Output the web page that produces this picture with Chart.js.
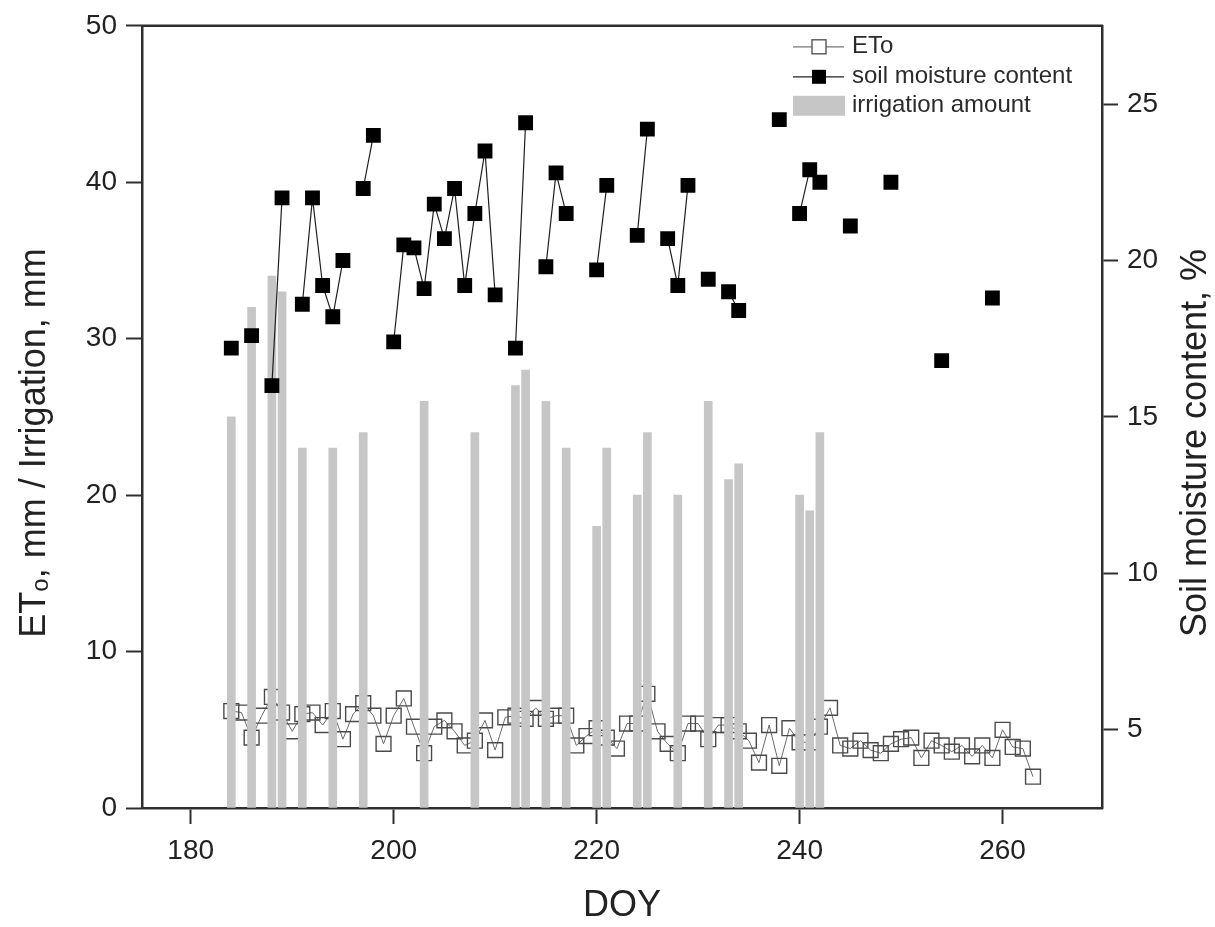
<!DOCTYPE html>
<html>
<head>
<meta charset="utf-8">
<title>ETo, soil moisture and irrigation by DOY</title>
<script src="https://cdn.jsdelivr.net/npm/chart.js@4.4.0/dist/chart.umd.min.js"></script>
<style>
  html, body { margin: 0; padding: 0; background: #ffffff; }
  #wrap { width: 1215px; height: 927px; }
</style>
</head>
<body>
<div id="wrap"><canvas id="chart" width="1215" height="927"></canvas></div>
<script>
// Day of year for the daily reference evapotranspiration record
const etoDays = [
  184, 185, 186, 187, 188, 189, 190, 191, 192, 193,
  194, 195, 196, 197, 198, 199, 200, 201, 202, 203,
  204, 205, 206, 207, 208, 209, 210, 211, 212, 213,
  214, 215, 216, 217, 218, 219, 220, 221, 222, 223,
  224, 225, 226, 227, 228, 229, 230, 231, 232, 233,
  234, 235, 236, 237, 238, 239, 240, 241, 242, 243,
  244, 245, 246, 247, 248, 249, 250, 251, 252, 253,
  254, 255, 256, 257, 258, 259, 260, 261, 262, 263
];
// ETo, mm per day
const etoValues = [
  6.2, 6.1, 4.5, 5.9, 7.1, 6.1, 4.9, 6.0, 6.1, 5.3,
  6.2, 4.4, 6.0, 6.7, 5.9, 4.1, 5.9, 7.0, 5.2, 3.5,
  5.2, 5.6, 4.9, 4.0, 4.3, 5.6, 3.7, 5.8, 5.9, 5.7,
  6.4, 5.7, 5.9, 5.9, 4.0, 4.6, 5.1, 4.5, 3.8, 5.4,
  5.4, 7.3, 4.9, 4.1, 3.5, 5.4, 5.4, 4.4, 5.3, 5.3,
  4.9, 4.3, 2.9, 5.3, 2.7, 5.1, 4.2, 4.2, 5.2, 6.4,
  4.0, 3.8, 4.3, 3.7, 3.5, 4.1, 4.4, 4.5, 3.2, 4.3,
  4.0, 3.6, 4.0, 3.3, 4.0, 3.2, 5.0, 3.9, 3.8, 2.0
];

// Soil moisture content (%), measured on these days only
const soilDays = [
  184, 186, 188, 189, 191, 192, 193, 194, 195, 197,
  198, 200, 201, 202, 203, 204, 205, 206, 207, 208,
  209, 210, 212, 213, 215, 216, 217, 220, 221, 224,
  225, 227, 228, 229, 231, 233, 234, 238, 240, 241,
  242, 245, 249, 254, 259
];
const soilValues = [
  17.2, 17.6, 16.0, 22.0, 18.6, 22.0, 19.2, 18.2, 20.0, 22.3,
  24.0, 17.4, 20.5, 20.4, 19.1, 21.8, 20.7, 22.3, 19.2, 21.5,
  23.5, 18.9, 17.2, 24.4, 19.8, 22.8, 21.5, 19.7, 22.4, 20.8,
  24.2, 20.7, 19.2, 22.4, 19.4, 19.0, 18.4, 24.5, 21.5, 22.9,
  22.5, 21.1, 22.5, 16.8, 18.8
];

// Irrigation events (mm)
const irrDays = [
  184, 186, 188, 189, 191, 194, 197, 203, 208, 212,
  213, 215, 217, 220, 221, 224, 225, 228, 231, 233,
  234, 240, 241, 242
];
const irrAmounts = [
  25, 32, 34, 33, 23, 23, 24, 26, 24, 27,
  28, 26, 23, 18, 23, 20, 24, 20, 26, 21,
  22, 20, 19, 24
];

// Axis tick labels
const doyTicks = [180, 200, 220, 240, 260];
const leftTicks = [0, 10, 20, 30, 40, 50];
const rightTicks = [5, 10, 15, 20, 25];

const FONT = "'Liberation Sans', Arial, Helvetica, sans-serif";
const INK = '#222222';
const AXIS = '#2e2e2e';

// Soil readings are joined only on consecutive days: a null point breaks the line
const soilPoints = [];
soilDays.forEach((d, i) => {
  if (i > 0 && d - soilDays[i - 1] > 1) soilPoints.push({ x: d - 0.5, y: null });
  soilPoints.push({ x: d, y: soilValues[i] });
});

const etoPoints = etoDays.map((d, i) => ({ x: d, y: etoValues[i] }));
const irrPoints = irrDays.map((d, i) => ({ x: d, y: irrAmounts[i] }));

// Frame top edge, axis titles and the inset legend
const decor = {
  id: 'decor',
  afterDraw(chart) {
    const { ctx, chartArea: a } = chart;
    ctx.save();

    ctx.strokeStyle = AXIS;
    ctx.lineWidth = 2.5;
    ctx.beginPath();
    ctx.moveTo(a.left - 1, a.top);
    ctx.lineTo(a.right + 1, a.top);
    ctx.stroke();

    ctx.fillStyle = INK;
    ctx.textBaseline = 'middle';

    // left title with subscript o
    const big = '36px ' + FONT, small = '24px ' + FONT;
    const p1 = 'ET', p2 = 'o', p3 = ', mm / Irrigation, mm';
    ctx.font = big; const w1 = ctx.measureText(p1).width, w3 = ctx.measureText(p3).width;
    ctx.font = small; const w2 = ctx.measureText(p2).width;
    const total = w1 + w2 + w3;
    ctx.save();
    ctx.translate(35, 443);
    ctx.rotate(-Math.PI / 2);
    ctx.textAlign = 'left';
    let x0 = -total / 2;
    ctx.font = big; ctx.fillText(p1, x0, 0);
    ctx.font = small; ctx.fillText(p2, x0 + w1, 6);
    ctx.font = big; ctx.fillText(p3, x0 + w1 + w2, 0);
    ctx.restore();

    // right title, reading upward
    ctx.save();
    ctx.translate(1196, 443);
    ctx.rotate(-Math.PI / 2);
    ctx.textAlign = 'center';
    ctx.font = big;
    ctx.fillText('Soil moisture content, %', 0, 0);
    ctx.restore();

    // bottom title
    ctx.textAlign = 'center';
    ctx.font = big;
    ctx.fillText('DOY', (a.left + a.right) / 2, 906);

    // legend
    const lx = a.right - 309, ty = a.top;
    const rows = [ty + 21, ty + 51, ty + 80];
    ctx.textAlign = 'left';
    ctx.font = '24px ' + FONT;
    ctx.fillStyle = '#2a2a2a';
    ctx.fillText('ETo', lx + 59, rows[0]);
    ctx.fillText('soil moisture content', lx + 59, rows[1]);
    ctx.fillText('irrigation amount', lx + 59, rows[2]);

    ctx.lineWidth = 1.2;
    ctx.strokeStyle = '#777777';
    ctx.beginPath(); ctx.moveTo(lx, rows[0]); ctx.lineTo(lx + 51, rows[0]); ctx.stroke();
    ctx.fillStyle = '#ffffff';
    ctx.fillRect(lx + 19, rows[0] - 7, 14, 14);
    ctx.strokeStyle = '#555555'; ctx.lineWidth = 1.4;
    ctx.strokeRect(lx + 19, rows[0] - 7, 14, 14);

    ctx.strokeStyle = '#222222'; ctx.lineWidth = 1.2;
    ctx.beginPath(); ctx.moveTo(lx, rows[1]); ctx.lineTo(lx + 51, rows[1]); ctx.stroke();
    ctx.fillStyle = '#000000';
    ctx.fillRect(lx + 19, rows[1] - 7, 14, 14);

    ctx.fillStyle = '#c6c6c6';
    ctx.fillRect(lx, rows[2] - 10, 52, 20);

    ctx.restore();
  }
};

const tickGrid = {
  display: true,
  offset: false,
  drawOnChartArea: false,
  drawTicks: true,
  tickLength: 16,
  tickWidth: 2,
  tickColor: AXIS
};

new Chart(document.getElementById('chart'), {
  type: 'bar',
  data: {
    datasets: [
      {
        type: 'line',
        label: 'ETo',
        data: etoPoints,
        yAxisID: 'y',
        borderColor: '#6a6a6a',
        borderWidth: 1,
        pointStyle: 'rect',
        pointRadius: 10.5,
        pointBorderWidth: 1.4,
        pointBorderColor: '#4a4a4a',
        pointBackgroundColor: 'rgba(255,255,255,0)',
        order: 3
      },
      {
        type: 'bar',
        label: 'irrigation amount',
        data: irrPoints,
        yAxisID: 'y',
        backgroundColor: '#c6c6c6',
        borderWidth: 0,
        barThickness: 8,
        order: 2
      },
      {
        type: 'line',
        label: 'soil moisture content',
        data: soilPoints,
        yAxisID: 'y2',
        spanGaps: false,
        borderColor: '#1e1e1e',
        borderWidth: 1.2,
        pointStyle: 'rect',
        pointRadius: 10.5,
        pointBorderWidth: 0,
        pointBackgroundColor: '#000000',
        order: 1
      }
    ]
  },
  options: {
    responsive: false,
    animation: false,
    devicePixelRatio: 1,
    layout: { padding: { top: 23, left: 0, right: 0, bottom: 0 } },
    plugins: {
      legend: { display: false },
      tooltip: { enabled: false }
    },
    scales: {
      x: {
        type: 'linear',
        position: 'bottom',
        min: 175.2,
        max: 269.8,
        offset: false,
        afterBuildTicks: s => { s.ticks = doyTicks.map(v => ({ value: v })); },
        afterFit: s => { s.height = 119; },
        ticks: {
          autoSkip: false, maxRotation: 0, padding: 10,
          color: INK, font: { family: FONT, size: 28 }
        },
        grid: tickGrid,
        border: { display: true, color: AXIS, width: 2.5 }
      },
      y: {
        position: 'left',
        min: 0,
        max: 50,
        afterBuildTicks: s => { s.ticks = leftTicks.map(v => ({ value: v })); },
        afterFit: s => { s.width = 142; },
        ticks: { padding: 9, color: INK, font: { family: FONT, size: 28 } },
        grid: tickGrid,
        border: { display: true, color: AXIS, width: 2.5 }
      },
      y2: {
        position: 'right',
        min: 2.5,
        max: 27.5,
        afterBuildTicks: s => { s.ticks = rightTicks.map(v => ({ value: v })); },
        afterFit: s => { s.width = 113; },
        ticks: { padding: 9, color: INK, font: { family: FONT, size: 28 } },
        grid: tickGrid,
        border: { display: true, color: AXIS, width: 2.5 }
      }
    }
  },
  plugins: [decor]
});
</script>
</body>
</html>
